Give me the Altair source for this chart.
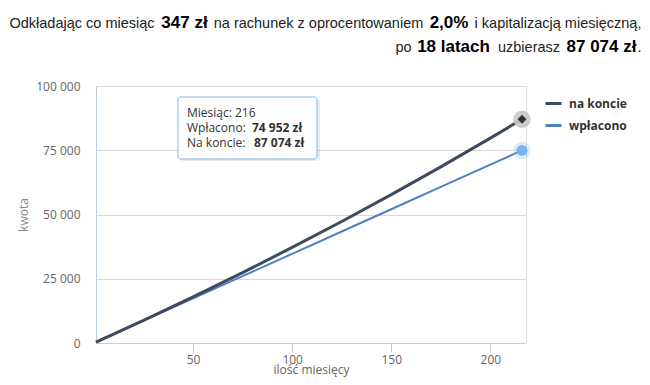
import altair as alt
import pandas as pd

# ---- data ----
months = [1, 25, 50, 75, 100, 125, 150, 175, 200, 216]
wplacono = [347, 8675, 17350, 26025, 34700, 43375, 52050, 60725, 69400, 74952]
na_koncie = [347, 8830, 17960, 27405, 37175, 47275, 57730, 68540, 79720, 87074]
series_names = ["na koncie", "wpłacono"]
series_colors = ["#3e4a5e", "#4f80c2"]
x_ticks = [50, 100, 150, 200]
y_ticks = [0, 25000, 50000, 75000, 100000]
monthly = 347
rate = "2,0%"
years = 18


def fmt(n):
    return f"{n:,}".replace(",", " ")


rows = []
for m, w in zip(months, wplacono):
    rows.append({"month": m, "value": w, "series": "wpłacono"})
for m, k in zip(months, na_koncie):
    rows.append({"month": m, "value": k, "series": "na koncie"})
df = pd.DataFrame(rows)

last = pd.DataFrame({
    "month": [months[-1], months[-1]],
    "value": [na_koncie[-1], wplacono[-1]],
    "series": ["na koncie", "wpłacono"],
})

FONT = "Open Sans"
TFONT = "Liberation Sans"

xscale = alt.Scale(domain=[1, 218], nice=False, zero=False)
yscale = alt.Scale(domain=[0, 100000], nice=False)

xaxis = alt.Axis(values=x_ticks, title="ilość miesięcy", grid=False,
                 domainColor="#c0d0e0", tickColor="#c0d0e0", tickSize=9,
                 labelFont=FONT, labelFontSize=12, labelColor="#666666",
                 titleFont=FONT, titleFontSize=12, titleColor="#666666",
                 titleFontWeight="normal", labelPadding=2,
                 titleY=30, titleBaseline="alphabetic",
                 labelFlush=False)
yaxis = alt.Axis(values=y_ticks, title="kwota", grid=True, gridColor="#d8d8d8",
                 domain=True, domainColor="#c0d0e0", ticks=False,
                 labelExpr="replace(format(datum.value, ','), ',', ' ')",
                 labelFont=FONT, labelFontSize=12, labelColor="#666666",
                 labelPadding=16, titleFont=FONT, titleFontSize=12,
                 titleColor="#888888", titleFontWeight="normal", titlePadding=5)

color = alt.Color("series:N",
                  scale=alt.Scale(domain=series_names, range=series_colors),
                  legend=alt.Legend(title=None, orient="none", legendX=448, legendY=8,
                                    symbolType="stroke", symbolSize=256,
                                    symbolStrokeWidth=3, labelFont=FONT,
                                    labelFontSize=12, labelFontWeight="bold",
                                    labelColor="#333333", rowPadding=6,
                                    labelOffset=6))

line_w = alt.Chart(df[df.series == "wpłacono"]).mark_line(strokeWidth=2).encode(
    x=alt.X("month:Q", scale=xscale, axis=xaxis),
    y=alt.Y("value:Q", scale=yscale, axis=yaxis),
    color=color,
)
line_k = alt.Chart(df[df.series == "na koncie"]).mark_line(strokeWidth=3).encode(
    x="month:Q", y="value:Q", color=color,
)

halo_k = alt.Chart(last[last.series == "na koncie"]).mark_point(
    filled=True, shape="circle", size=300, color="#c8c8c8", opacity=0.9
).encode(x="month:Q", y="value:Q")
dot_k = alt.Chart(last[last.series == "na koncie"]).mark_point(
    filled=True, shape="diamond", size=80, color="#333333", opacity=1
).encode(x="month:Q", y="value:Q")
halo_w = alt.Chart(last[last.series == "wpłacono"]).mark_point(
    filled=True, shape="circle", size=300, color="#7cb5ec", opacity=0.25
).encode(x="month:Q", y="value:Q")
dot_w = alt.Chart(last[last.series == "wpłacono"]).mark_point(
    filled=True, shape="circle", size=120, color="#7cb5ec", opacity=1
).encode(x="month:Q", y="value:Q")

one = pd.DataFrame({"a": [0]})


def txt(s, x, y, size=12, bold=False, font=FONT, col="#333333",
        baseline="alphabetic", align="left"):
    return alt.Chart(one).mark_text(
        text=s, align=align, baseline=baseline, font=font, fontSize=size,
        fontWeight="bold" if bold else "normal", color=col,
    ).encode(x=alt.value(x), y=alt.value(y))


layers = [line_w, line_k, halo_w, halo_k, dot_w, dot_k]

# tooltip box
shadow = alt.Chart(one).mark_rect(fill="#000000", opacity=0.08, cornerRadius=3).encode(
    x=alt.value(84), x2=alt.value(224), y=alt.value(13), y2=alt.value(75))
box = alt.Chart(one).mark_rect(fill="#ffffff", stroke="#7cb5ec", strokeWidth=1,
                               cornerRadius=3, opacity=0.96).encode(
    x=alt.value(82), x2=alt.value(221), y=alt.value(11), y2=alt.value(73))
layers += [shadow, box]
layers += [
    txt(f"Miesiąc: {months[-1]}", 91, 27, baseline="middle"),
    txt("Wpłacono:", 91, 42, baseline="middle"),
    txt(f"{fmt(wplacono[-1])} zł", 156, 42, bold=True, baseline="middle"),
    txt("Na koncie:", 91, 57, baseline="middle"),
    txt(f"{fmt(na_koncie[-1])} zł", 158, 57, bold=True, baseline="middle"),
]

# heading (two lines, mixed weight), each piece centred on its place
y1 = 28 - 86
y2 = 52 - 86
REG, BIG = 14.5, 17
seg = [
    ("Odkładając co miesiąc", False, 82, y1),
    (f"{monthly} zł", True, 184.5, y1),
    ("na rachunek z oprocentowaniem", False, 318.5, y1),
    (rate, True, 449, y1),
    ("i kapitalizacją miesięczną,", False, 558, y1),
    ("po", False, 403.5, y2),
    (f"{years} latach", True, 453.5, y2),
    ("uzbierasz", False, 529, y2),
    (f"{fmt(na_koncie[-1])} zł", True, 601.5, y2),
    (".", False, 639.5, y2),
]
for s, b, px, py in seg:
    layers.append(txt(s, px - 96, py, size=BIG if b else REG, bold=b, font=TFONT,
                      col="#000000" if b else "#222222", align="center"))

chart = alt.layer(*layers).properties(
    width=430, height=257,
    autosize=alt.AutoSizeParams(type="none"),
    padding={"left": 88, "top": 78, "right": 116, "bottom": 34},
).configure_view(stroke=None).configure(background="#ffffff")

chart.save("out.html", embed_options={"renderer": "svg", "actions": False})
